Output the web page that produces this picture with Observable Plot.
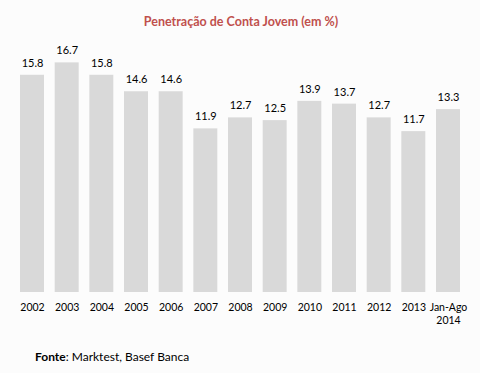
<!DOCTYPE html>
<html><head><meta charset="utf-8">
<script src="https://cdn.jsdelivr.net/npm/d3@7"></script>
<script src="https://cdn.jsdelivr.net/npm/@observablehq/plot@0.6"></script>
<style>
body{margin:0;background:#fcfcfc;font-family:Lato,"Open Sans",sans-serif;}
#wrap{width:480px;height:373px;position:relative;background:#fcfcfc;}
#title{text-align:center;color:#c0504d;font-weight:bold;font-size:12.5px;line-height:15px;padding-top:14px;height:15px;padding-left:2px;}
#cap{font-size:12px;line-height:14px;padding-top:21px;padding-left:35px;color:#000;}
</style></head>
<body><div id="wrap">
<div id="title">Penetração de Conta Jovem (em %)</div>
<div id="chart"></div>
<div id="cap"><b>Fonte</b>: Marktest, Basef Banca</div>
</div>
<script>
const categories = ["2002","2003","2004","2005","2006","2007","2008","2009","2010","2011","2012","2013","Jan-Ago 2014"];
const tickLabels = ["2002","2003","2004","2005","2006","2007","2008","2009","2010","2011","2012","2013","Jan-Ago\n2014"];
const values = [15.8,16.7,15.8,14.6,14.6,11.9,12.7,12.5,13.9,13.7,12.7,11.7,13.3];
const data = categories.map((c,i)=>({cat:c, value:values[i], label:values[i].toFixed(1)}));
const labelMap = new Map(categories.map((c,i)=>[c,tickLabels[i]]));
const chart = Plot.plot({
  width:480, height:300,
  marginLeft:9.33, marginRight:9.33, marginTop:15.5, marginBottom:37,
  style:{background:"#fcfcfc", fontFamily:"Lato, 'Open Sans', sans-serif", fontSize:"10.5px", color:"#000"},
  x:{domain:categories, padding:0.308, round:false, label:null},
  y:{domain:[0,18], axis:null},
  marks:[
    Plot.barY(data,{x:"cat", y:"value", fill:"#d9d9d9"}),
    Plot.text(data,{x:"cat", y:"value", text:"label", dy:-12, fontSize:11, fill:"#000"}),
    Plot.axisX({tickSize:0, tickPadding:10, label:null, lineHeight:1.2, tickFormat:d=>labelMap.get(d)})
  ]
});
document.getElementById("chart").appendChild(chart);
</script>
</body></html>
